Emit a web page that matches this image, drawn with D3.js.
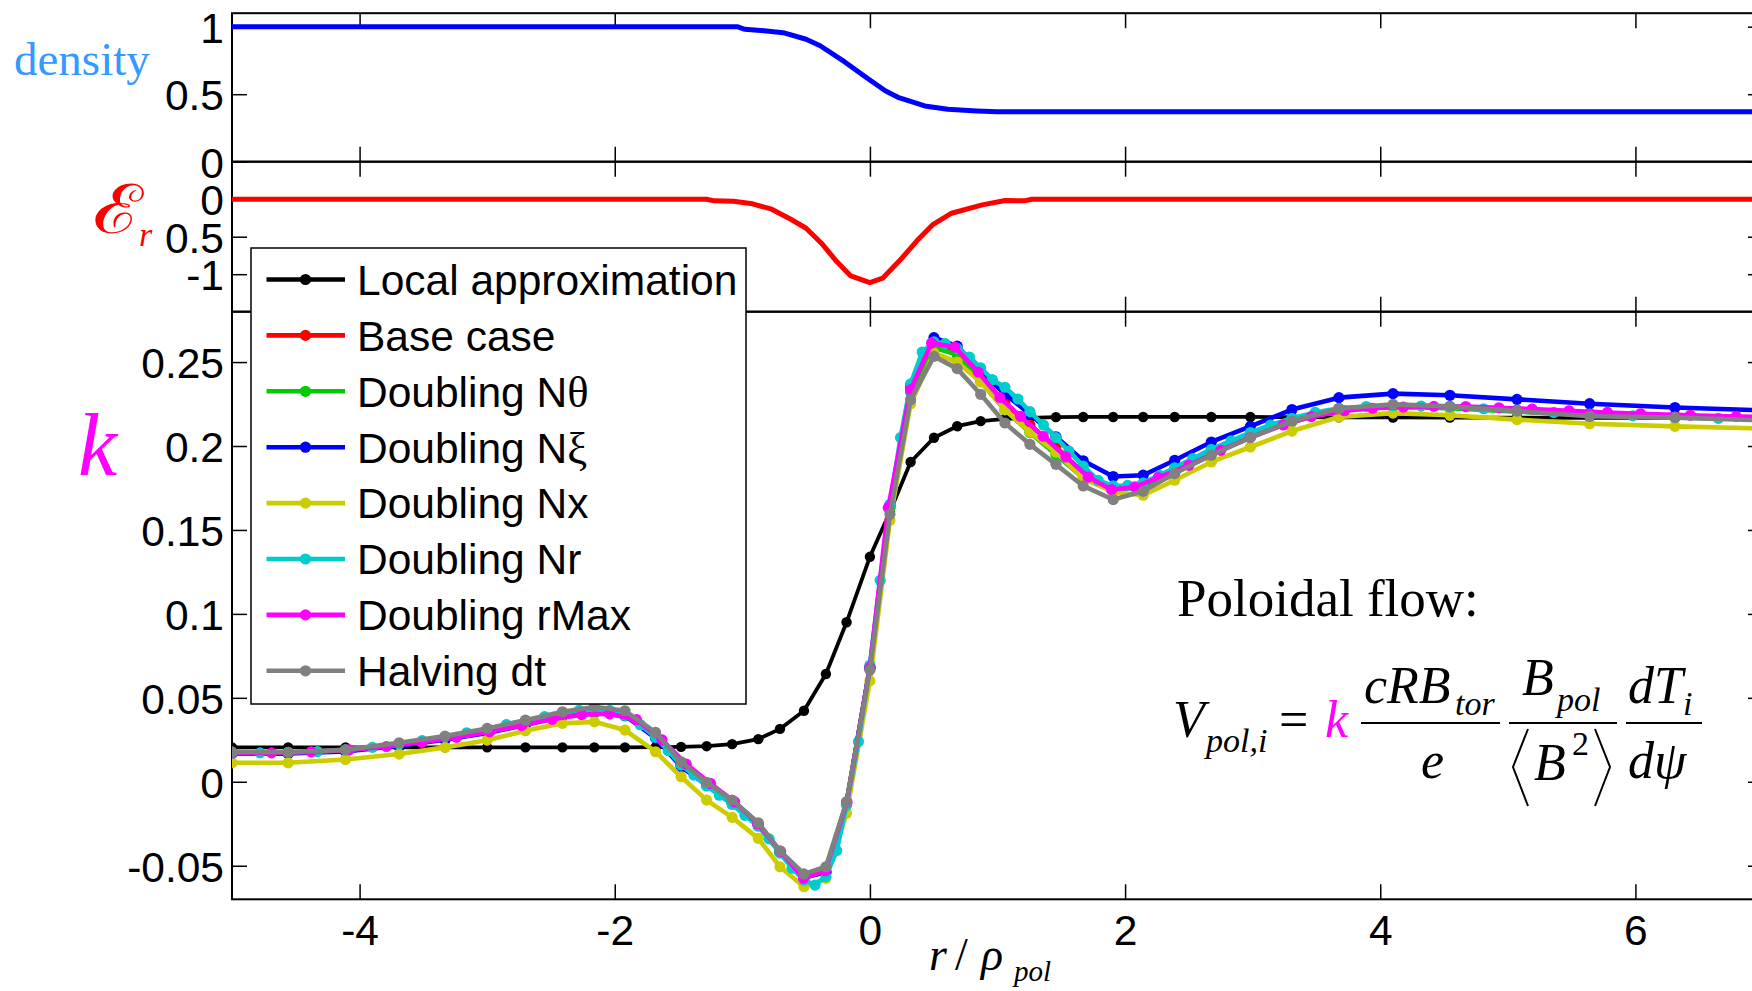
<!DOCTYPE html>
<html><head><meta charset="utf-8">
<script src="https://cdn.jsdelivr.net/npm/d3@7"></script>
<style>html,body{margin:0;padding:0;background:#fff;overflow:hidden}</style>
</head><body>
<script>
// ---------------- DATA ----------------
const xTicks = [-4, -2, 0, 2, 4, 6];
const xTickLabels = ["-4", "-2", "0", "2", "4", "6"];
const densTicks = [0, 0.5, 1];
const densTickLabels = ["0", "0.5", "1"];
const erTicks = [-1, -0.5, 0];
const erTickLabels = ["-1", "0.5", "0"];
const kTicks = [-0.05, 0, 0.05, 0.1, 0.15, 0.2, 0.25];
const kTickLabels = ["-0.05", "0", "0.05", "0.1", "0.15", "0.2", "0.25"];

// density profile (top panel)
const densX = [-5, -1.04, -0.98, -0.83, -0.68, -0.50, -0.39, -0.20, -0.02, 0.12, 0.22, 0.43, 0.61, 0.84, 1.0, 7];
const densY = [1.0, 1.0, 0.981, 0.970, 0.956, 0.907, 0.859, 0.741, 0.618, 0.526, 0.477, 0.413, 0.388, 0.376, 0.370, 0.370];

// radial electric field (middle panel)
const erX = [-5, -1.28, -1.22, -1.07, -0.92, -0.77, -0.62, -0.50, -0.38, -0.26, -0.15, 0.0, 0.10, 0.25, 0.37, 0.49, 0.64, 0.88, 1.06, 1.21, 1.27, 7];
const erY = [0, 0, -0.022, -0.027, -0.062, -0.133, -0.267, -0.387, -0.587, -0.832, -1.023, -1.112, -1.053, -0.787, -0.552, -0.343, -0.187, -0.076, -0.018, -0.022, 0, 0];

// k panel: common radial grid
const baseX = [-5.0, -4.56, -4.11, -3.69, -3.33, -3.0, -2.70, -2.41, -2.16, -1.92,
  -1.68, -1.48, -1.28, -1.08, -0.875, -0.705, -0.517, -0.345, -0.183, 0.0,
  0.157, 0.319, 0.502, 0.684, 0.868, 1.058, 1.254, 1.458, 1.672, 1.907,
  2.142, 2.389, 2.676, 2.982, 3.308, 3.676, 4.10, 4.546, 5.072, 5.641, 6.31, 7.0];

const kLocal = [0.0205, 0.0205, 0.0205, 0.0205, 0.0205, 0.0205, 0.0205, 0.0205, 0.0205, 0.0205,
  0.0206, 0.0208, 0.0212, 0.0224, 0.0254, 0.0315, 0.0423, 0.0642, 0.0950, 0.1340,
  0.1608, 0.1905, 0.2049, 0.2118, 0.2148, 0.2162, 0.2168, 0.2172, 0.2173, 0.2173,
  0.2173, 0.2173, 0.2173, 0.2173, 0.2172, 0.2171, 0.2170, 0.2169, 0.2169, 0.2168, 0.2168, 0.2168];

const kBase = [0.0170, 0.0172, 0.0188, 0.0225, 0.0262, 0.0305, 0.0350, 0.0392, 0.0412, 0.0395,
  0.0270, 0.0100, -0.0015, -0.0122, -0.0255, -0.0418, -0.0570, -0.0535, -0.0125, 0.0680,
  0.1640, 0.2340, 0.2605, 0.2575, 0.2420, 0.2255, 0.2125, 0.1995, 0.1840, 0.1745,
  0.1775, 0.1865, 0.1974, 0.2070, 0.2160, 0.2222, 0.2240, 0.2235, 0.2215, 0.2195, 0.2180, 0.2170];

const kNtheta = [0.0170, 0.0172, 0.0187, 0.0224, 0.0260, 0.0302, 0.0347, 0.0390, 0.0410, 0.0392,
  0.0268, 0.0098, -0.0017, -0.0124, -0.0258, -0.0420, -0.0572, -0.0537, -0.0127, 0.0675,
  0.1630, 0.2320, 0.2585, 0.2545, 0.2385, 0.2215, 0.2080, 0.1950, 0.1810, 0.1730,
  0.1760, 0.1850, 0.1955, 0.2055, 0.2145, 0.2212, 0.2232, 0.2225, 0.2205, 0.2185, 0.2170, 0.2160];

const kNxi = [0.0168, 0.0168, 0.0180, 0.0215, 0.0250, 0.0290, 0.0340, 0.0390, 0.0420, 0.0395,
  0.0260, 0.0090, -0.0020, -0.0125, -0.0260, -0.0420, -0.0565, -0.0540, -0.0130, 0.0680,
  0.1650, 0.2360, 0.2645, 0.2595, 0.2445, 0.2310, 0.2190, 0.2055, 0.1912, 0.1818,
  0.1826, 0.1915, 0.2024, 0.2117, 0.2217, 0.2288, 0.2312, 0.2302, 0.2278, 0.2252, 0.2229, 0.2212];

const kNx = [0.0113, 0.0113, 0.0133, 0.0165, 0.0205, 0.0248, 0.0304, 0.0348, 0.0357, 0.0308,
  0.0179, 0.0030, -0.0109, -0.0212, -0.0337, -0.0506, -0.0625, -0.0575, -0.0188, 0.0601,
  0.1558, 0.2252, 0.2554, 0.2500, 0.2381, 0.2217, 0.2083, 0.1964, 0.1806, 0.1726,
  0.1707, 0.1796, 0.1905, 0.1994, 0.2089, 0.2173, 0.2196, 0.2183, 0.2157, 0.2133, 0.2117, 0.2104];

const kHalfDt = [0.0178, 0.0176, 0.0190, 0.0232, 0.0272, 0.0318, 0.0367, 0.0417, 0.0446, 0.0423,
  0.0294, 0.0119, -0.0004, -0.0109, -0.0244, -0.0411, -0.0549, -0.0506, -0.0119, 0.0665,
  0.1593, 0.2276, 0.2534, 0.2461, 0.2308, 0.2137, 0.2010, 0.1891, 0.1762, 0.1681,
  0.1730, 0.1836, 0.1945, 0.2050, 0.2149, 0.2223, 0.2248, 0.2236, 0.2208, 0.2177, 0.2169, 0.2153];

// Doubling Nr: finer radial grid
const nrX = [-5.0, -4.78, -4.56, -4.33, -4.11, -3.90, -3.69, -3.51, -3.33, -3.16,
  -3.0, -2.85, -2.70, -2.55, -2.41, -2.28, -2.16, -2.04, -1.92, -1.80,
  -1.68, -1.58, -1.48, -1.38, -1.28, -1.18, -1.08, -0.98, -0.875, -0.79,
  -0.705, -0.61, -0.517, -0.43, -0.345, -0.26, -0.183, -0.09, 0.0, 0.08,
  0.157, 0.24, 0.319, 0.41, 0.502, 0.59, 0.684, 0.78, 0.868, 0.96,
  1.058, 1.16, 1.254, 1.36, 1.458, 1.56, 1.672, 1.79, 1.907, 2.02,
  2.142, 2.27, 2.389, 2.53, 2.676, 2.83, 2.982, 3.14, 3.308, 3.49,
  3.676, 3.89, 4.10, 4.32, 4.546, 4.81, 5.072, 5.36, 5.641, 5.98,
  6.31, 6.65, 7.0];
const kNr = [0.0170, 0.0172, 0.0175, 0.0180, 0.0190, 0.0205, 0.0225, 0.0245, 0.0268, 0.0292,
  0.0315, 0.0340, 0.0365, 0.0388, 0.0410, 0.0425, 0.0432, 0.0425, 0.0395, 0.0340,
  0.0265, 0.0185, 0.0100, 0.0040, -0.0025, -0.0080, -0.0135, -0.0200, -0.0265, -0.0340,
  -0.0425, -0.0515, -0.0585, -0.0615, -0.0565, -0.0410, -0.0140, 0.0240, 0.0695, 0.1200,
  0.1650, 0.2050, 0.2370, 0.2560, 0.2620, 0.2610, 0.2580, 0.2530, 0.2465, 0.2395,
  0.2350, 0.2280, 0.2205, 0.2125, 0.2050, 0.1970, 0.1880, 0.1795, 0.1762, 0.1765,
  0.1780, 0.1825, 0.1870, 0.1925, 0.1980, 0.2030, 0.2080, 0.2125, 0.2165, 0.2200,
  0.2225, 0.2235, 0.2240, 0.2238, 0.2232, 0.2222, 0.2212, 0.2200, 0.2190, 0.2180,
  0.2172, 0.2165, 0.2160];

// Doubling rMax: its own grid
const rmaxX = [-5.0, -4.69, -4.38, -4.08, -3.79, -3.51, -3.24, -2.98, -2.73, -2.49,
  -2.26, -2.04, -1.83, -1.63, -1.44, -1.25, -1.06, -0.88, -0.70, -0.52,
  -0.35, -0.18, 0.0, 0.144, 0.319, 0.483, 0.666, 0.849, 1.019, 1.18,
  1.358, 1.536, 1.711, 1.894, 2.077, 2.26, 2.50, 2.75, 2.98, 3.24,
  3.46, 3.72, 3.94, 4.18, 4.42, 4.67, 4.93, 5.19, 5.48, 5.78,
  6.04, 6.43, 6.79, 7.0];
const kRmax = [0.0172, 0.0172, 0.0178, 0.0190, 0.0210, 0.0235, 0.0265, 0.0298, 0.0335, 0.0372,
  0.0400, 0.0405, 0.0370, 0.0250, 0.0105, -0.0010, -0.0120, -0.0250, -0.0415, -0.0575,
  -0.0530, -0.0120, 0.0680, 0.1633, 0.2336, 0.2613, 0.2589, 0.2440, 0.2288, 0.2177,
  0.2058, 0.1935, 0.1815, 0.1740, 0.1756, 0.1812, 0.1885, 0.1974, 0.2050, 0.2125,
  0.2175, 0.2210, 0.2225, 0.2232, 0.2236, 0.2235, 0.2228, 0.2220, 0.2210, 0.2200,
  0.2192, 0.2183, 0.2176, 0.2172];

// legend names: [latin part, greek suffix]
const seriesNames = [["Local approximation", ""], ["Base case", ""], ["Doubling N", "\u03B8"], ["Doubling N", "\u03BE"],
  ["Doubling Nx", ""], ["Doubling Nr", ""], ["Doubling rMax", ""], ["Halving dt", ""]];
const seriesColors = ["#000000", "#ff0000", "#00cc00", "#0000ff", "#cccc00", "#00cccc", "#ff00ff", "#808080"];

// ---------------- DRAW ----------------
const W = 1752, H = 991;
const svg = d3.select("body").append("svg").attr("width", W).attr("height", H)
  .style("display", "block").style("background", "#fff");

const LEFT = 232, RIGHT = 1763;
const P1 = [13.2, 161.7], P2 = [161.7, 311.7], P3 = [311.7, 899.3];
const x = d3.scaleLinear().domain([-5, 7]).range([LEFT, RIGHT]);
const yD = d3.scaleLinear().domain([0, 1.1]).range([P1[1], P1[0]]);
const yE = d3.scaleLinear().domain([-1.5, 0.5]).range([P2[1], P2[0]]);
const yK = d3.scaleLinear().domain([-0.07, 0.28]).range([P3[1], P3[0]]);

const SANS = "'Liberation Sans', Arial, Helvetica, sans-serif";
const SERIF = "'Liberation Serif', 'Times New Roman', Times, serif";
const FS = 42.5;
const TL = 15;

function styleAxis(g) {
  g.attr("font-family", SANS).attr("font-size", FS);
  g.selectAll(".domain").remove();
  g.selectAll(".tick line").attr("stroke", "#000").attr("stroke-width", 1.5);
  g.selectAll(".tick text").attr("fill", "#000");
}

function panel(y, top, bottom, yTicks, yLabels, showX) {
  const gl = svg.append("g").attr("transform", `translate(${LEFT},0)`)
    .call(d3.axisLeft(y).tickValues(yTicks).tickSize(-TL).tickPadding(8)
      .tickFormat((d, i) => yLabels[i]));
  styleAxis(gl);
  gl.selectAll(".tick text").attr("dy", "0.36em");
  const gr = svg.append("g").attr("transform", `translate(${RIGHT},0)`)
    .call(d3.axisRight(y).tickValues(yTicks).tickSize(-TL).tickFormat(""));
  styleAxis(gr);
  const gb = svg.append("g").attr("transform", `translate(0,${bottom})`)
    .call(d3.axisBottom(x).tickValues(xTicks).tickSize(-TL).tickPadding(15.5)
      .tickFormat((d, i) => showX ? xTickLabels[i] : ""));
  styleAxis(gb);
  const gt = svg.append("g").attr("transform", `translate(0,${top})`)
    .call(d3.axisTop(x).tickValues(xTicks).tickSize(-TL).tickFormat(""));
  styleAxis(gt);
  svg.append("rect").attr("x", LEFT).attr("y", top).attr("width", RIGHT - LEFT)
    .attr("height", bottom - top).attr("fill", "none").attr("stroke", "#000").attr("stroke-width", 2);
}

panel(yD, P1[0], P1[1], densTicks, densTickLabels, false);
panel(yE, P2[0], P2[1], erTicks, erTickLabels, false);
panel(yK, P3[0], P3[1], kTicks, kTickLabels, true);

// top curves
const densData = densX.map((v, i) => [v, densY[i]]);
svg.append("path").datum(densData)
  .attr("d", d3.line().x(d => x(d[0])).y(d => yD(d[1])))
  .attr("fill", "none").attr("stroke", "#0000ff").attr("stroke-width", 5).attr("stroke-linejoin", "round");
const erData = erX.map((v, i) => [v, erY[i]]);
svg.append("path").datum(erData)
  .attr("d", d3.line().x(d => x(d[0])).y(d => yE(d[1])))
  .attr("fill", "none").attr("stroke", "#ff0000").attr("stroke-width", 5).attr("stroke-linejoin", "round");

// k series
const series = [
  { xs: baseX, ys: kLocal },
  { xs: baseX, ys: kBase },
  { xs: baseX, ys: kNtheta },
  { xs: baseX, ys: kNxi },
  { xs: baseX, ys: kNx },
  { xs: nrX, ys: kNr },
  { xs: rmaxX, ys: kRmax },
  { xs: baseX, ys: kHalfDt }
];
const kLine = d3.line().x(d => x(d[0])).y(d => yK(d[1]));
svg.append("defs").append("clipPath").attr("id", "kclip")
  .append("rect").attr("x", LEFT).attr("y", P3[0]).attr("width", RIGHT - LEFT).attr("height", P3[1] - P3[0]);
const gk = svg.append("g").attr("clip-path", "url(#kclip)");
series.forEach((s, si) => {
  const pts = s.xs.map((v, i) => [v, s.ys[i]]);
  const g = gk.append("g");
  g.append("path").datum(pts).attr("d", kLine).attr("fill", "none")
    .attr("stroke", seriesColors[si]).attr("stroke-width", si === 0 ? 3.8 : 4.6)
    .attr("stroke-linejoin", "round");
  g.selectAll("circle").data(pts).join("circle")
    .attr("cx", d => x(d[0])).attr("cy", d => yK(d[1])).attr("r", si === 0 ? 5.2 : 5.6)
    .attr("fill", seriesColors[si]);
});

// legend
const LG = { x: 251, y: 248, w: 495, h: 456 };
svg.append("rect").attr("x", LG.x).attr("y", LG.y).attr("width", LG.w).attr("height", LG.h)
  .attr("fill", "#fff").attr("stroke", "#000").attr("stroke-width", 1.5);
seriesNames.forEach((name, i) => {
  const cy = 279.5 + i * 55.9;
  svg.append("line").attr("x1", 266.5).attr("x2", 345).attr("y1", cy).attr("y2", cy)
    .attr("stroke", seriesColors[i]).attr("stroke-width", 4.6);
  svg.append("circle").attr("cx", 305.5).attr("cy", cy).attr("r", 5.6).attr("fill", seriesColors[i]);
  const t = svg.append("text").attr("x", 357).attr("y", cy).attr("dy", "0.36em")
    .attr("font-family", SANS).attr("font-size", FS).attr("fill", "#000");
  t.append("tspan").text(name[0]);
  if (name[1]) t.append("tspan").attr("font-family", SERIF).attr("font-size", FS * 1.05).text(name[1]);
});

// axis labels
svg.append("text").attr("x", 14).attr("y", 75).attr("font-family", SERIF).attr("font-size", 47)
  .attr("fill", "#3399ff").text("density");
svg.append("text").attr("x", 93).attr("y", 233).attr("font-family", "'DejaVu Serif', serif")
  .attr("font-size", 68).attr("textLength", 50).attr("lengthAdjust", "spacingAndGlyphs")
  .attr("fill", "#ff0000").text("\u2130");
svg.append("text").attr("x", 139).attr("y", 246).attr("font-family", SERIF).attr("font-style", "italic")
  .attr("font-size", 34).attr("fill", "#ff0000").text("r");
svg.append("text").attr("x", 78).attr("y", 475).attr("font-family", SERIF).attr("font-style", "italic")
  .attr("font-size", 88).attr("fill", "#ff00ff").text("k");

// x label r / rho_pol
const xl = svg.append("g").attr("font-family", SERIF).attr("fill", "#000");
xl.append("text").attr("x", 929).attr("y", 970).attr("font-size", 46).attr("font-style", "italic").text("r");
xl.append("text").attr("x", 955).attr("y", 970).attr("font-size", 46).text("/");
xl.append("text").attr("x", 981).attr("y", 970).attr("font-size", 46).attr("font-style", "italic").text("\u03C1");
xl.append("text").attr("x", 1014).attr("y", 981).attr("font-size", 29).attr("font-style", "italic").text("pol");

// annotation
const an = svg.append("g").attr("font-family", SERIF).attr("fill", "#000");
an.append("text").attr("x", 1177).attr("y", 616).attr("font-size", 53).text("Poloidal flow:");
function it(t, xx, yy, fs, col) {
  an.append("text").attr("x", xx).attr("y", yy).attr("font-size", fs).attr("font-style", "italic")
    .attr("fill", col || "#000").text(t);
}
it("V", 1173, 737, 52);
it("pol,i", 1206, 752, 34);
an.append("text").attr("x", 1279).attr("y", 737).attr("font-size", 52).text("=");
it("k", 1325, 737, 52, "#ff00ff");
it("cRB", 1364, 703, 52);
it("tor", 1455, 715, 34);
it("e", 1421, 778, 52);
it("B", 1522, 695, 52);
it("pol", 1557, 711, 34);
it("B", 1534, 780, 52);
an.append("text").attr("x", 1572).attr("y", 755).attr("font-size", 34).text("2");
it("dT", 1628, 703, 52);
it("i", 1683, 715, 34);
it("d\u03C8", 1628, 778, 52);
[[1361, 1500], [1509, 1617], [1626, 1702]].forEach(b => {
  an.append("line").attr("x1", b[0]).attr("x2", b[1]).attr("y1", 723).attr("y2", 723)
    .attr("stroke", "#000").attr("stroke-width", 2);
});
an.append("path").attr("d", "M1528,729 L1513,767 L1528,806").attr("fill", "none").attr("stroke", "#000").attr("stroke-width", 2);
an.append("path").attr("d", "M1595,729 L1610,767 L1595,806").attr("fill", "none").attr("stroke", "#000").attr("stroke-width", 2);
</script>
</body></html>
